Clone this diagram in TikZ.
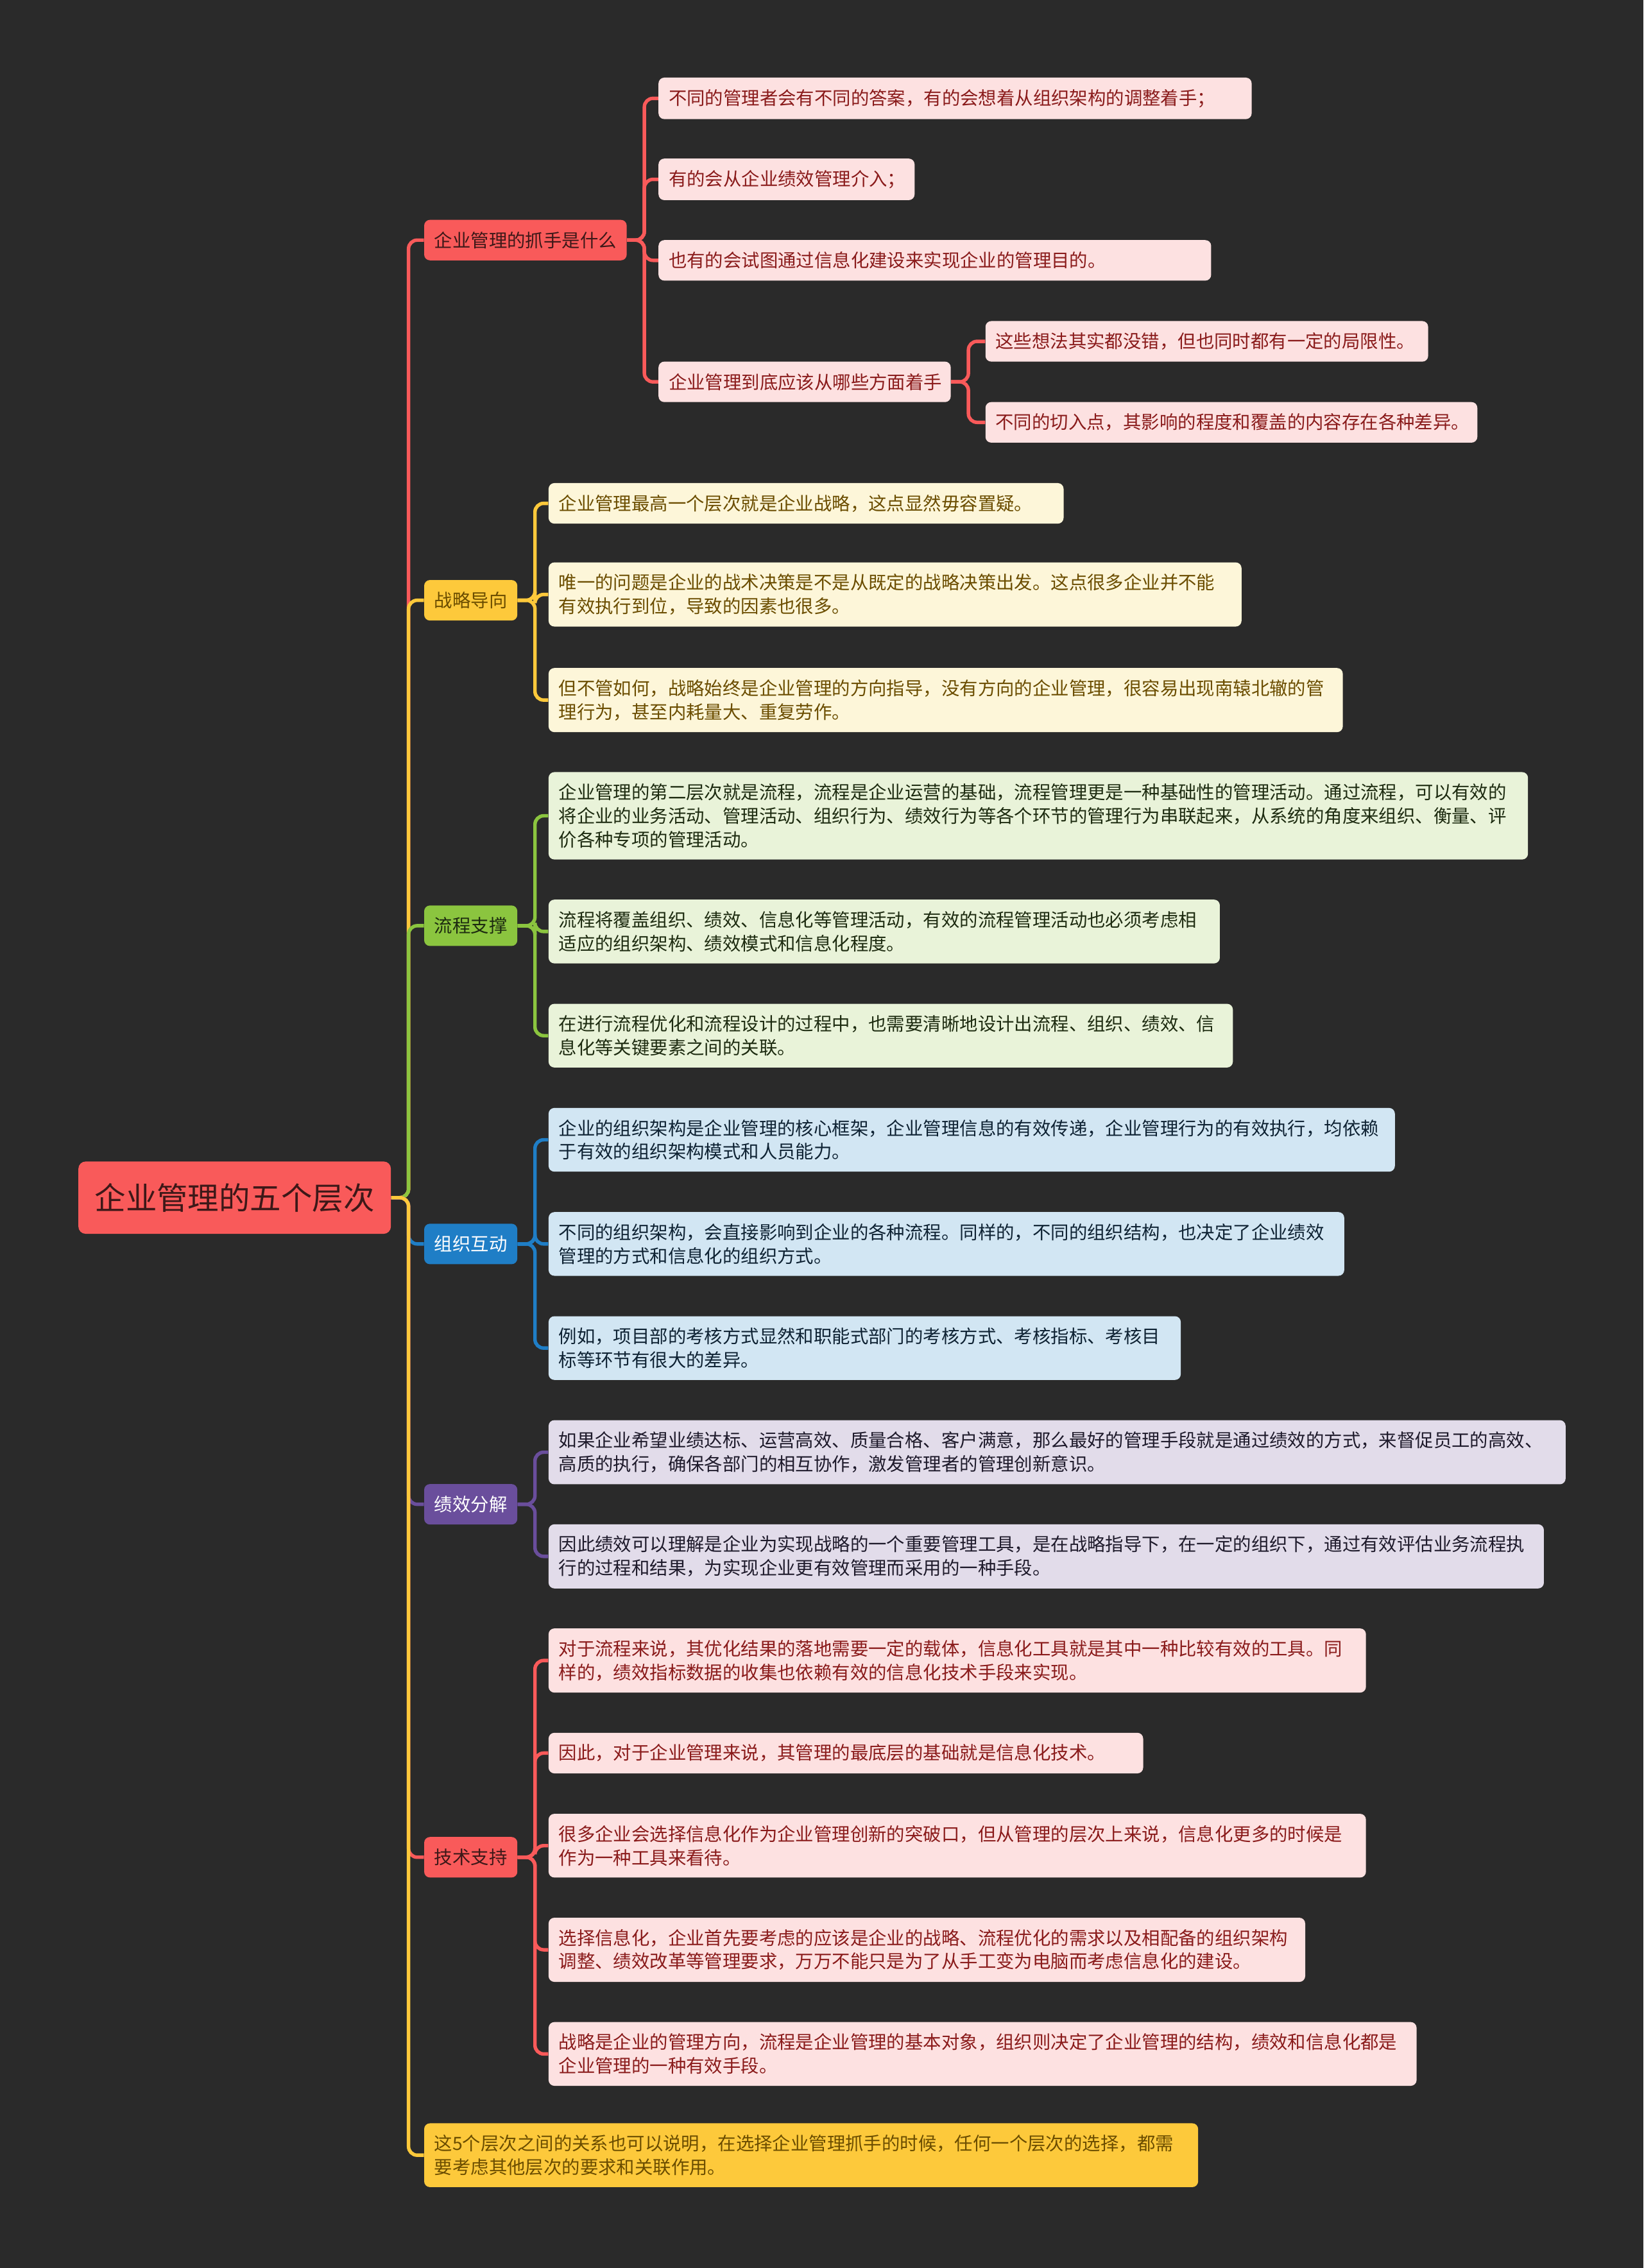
\documentclass[tikz,border=0pt]{standalone}
\usepackage{fontspec}
\setmainfont{Noto Sans CJK SC}
\usepackage{tikz}
\usetikzlibrary{positioning}
\definecolor{bgdark}{HTML}{2A2A2A}
\definecolor{mmred}{HTML}{F95A5A}
\definecolor{mmyellow}{HTML}{FDC93B}
\definecolor{mmgreen}{HTML}{8BC53F}
\definecolor{mmblue}{HTML}{1F7EC6}
\definecolor{mmpurple}{HTML}{6A4E9C}
\definecolor{lfred}{HTML}{FDE1E1}
\definecolor{lfyellow}{HTML}{FDF6D9}
\definecolor{lfgreen}{HTML}{E9F3D9}
\definecolor{lfblue}{HTML}{D2E6F3}
\definecolor{lfpurple}{HTML}{E2DCEA}
\definecolor{txred}{HTML}{8A1B1B}
\definecolor{txbrown}{HTML}{6B4D00}
\definecolor{txgreen}{HTML}{1D2B10}
\definecolor{txblue}{HTML}{0E2233}
\definecolor{txpurple}{HTML}{1E1A2B}
\definecolor{txroot}{HTML}{3D1818}
\newcommand\lfsize{\fontsize{12.6pt}{16.3pt}\selectfont}
\newcommand\rtsize{\fontsize{21.5pt}{26pt}\selectfont}

\begin{document}
\begin{tikzpicture}[x=1pt,y=-1pt,
   rt/.style={rounded corners=5pt,anchor=west,minimum width=216pt,minimum height=50pt,
              inner sep=0pt,font=\rtsize,fill=mmred,text=txroot},
   br/.style={rounded corners=4pt,anchor=west,inner xsep=7pt,inner ysep=0pt,
              minimum height=28pt,font=\lfsize},
   lf/.style={rounded corners=4pt,anchor=west,inner xsep=7pt,inner ysep=8pt,
              minimum height=28pt,align=left,font=\lfsize},
   ln/.style={line width=2.4pt,rounded corners=6pt}]
  \fill[bgdark] (0,0) rectangle (1136,1568);

  \node[rt] (root) at (54,828) {企业管理的五个层次};

  \node[br,fill=mmred,text=txroot] (b1) at (293,166) {企业管理的抓手是什么};
  \node[br,fill=mmyellow,text=txbrown] (b2) at (293,415) {战略导向};
  \node[br,fill=mmgreen,text=txgreen] (b3) at (293,640) {流程支撑};
  \node[br,fill=mmblue,text=white] (b4) at (293,860) {组织互动};
  \node[br,fill=mmpurple,text=white] (b5) at (293,1040) {绩效分解};
  \node[br,fill=mmred,text=txroot] (b6) at (293,1284) {技术支持};
  \node[lf,fill=mmyellow,text=txbrown,text width=521pt] (b7) at (293,1490)
       {这5个层次之间的关系也可以说明，在选择企业管理抓手的时候，任何一个层次的选择，都需\\要考虑其他层次的要求和关联作用。};

  \node[lf,fill=lfred,text=txred,text width=396pt] (l1a) at (455,68)
       {不同的管理者会有不同的答案，有的会想着从组织架构的调整着手；};
  \node[lf,fill=lfred,text=txred,text width=163pt] (l1b) at (455,124)
       {有的会从企业绩效管理介入；};
  \node[lf,fill=lfred,text=txred,text width=368pt] (l1c) at (455,180)
       {也有的会试图通过信息化建设来实现企业的管理目的。};
  \node[lf,fill=lfred,text=txred,text width=188pt] (l1d) at (455,264)
       {企业管理到底应该从哪些方面着手};
  \node[lf,fill=lfred,text=txred,text width=292pt] (l1e) at (681,236)
       {这些想法其实都没错，但也同时都有一定的局限性。};
  \node[lf,fill=lfred,text=txred,text width=326pt] (l1f) at (681,292)
       {不同的切入点，其影响的程度和覆盖的内容存在各种差异。};

  \node[lf,fill=lfyellow,text=txbrown,text width=342pt] (y1) at (379,348)
       {企业管理最高一个层次就是企业战略，这点显然毋容置疑。};
  \node[lf,fill=lfyellow,text=txbrown,text width=465pt] (y2) at (379,411)
       {唯一的问题是企业的战术决策是不是从既定的战略决策出发。这点很多企业并不能\\有效执行到位，导致的因素也很多。};
  \node[lf,fill=lfyellow,text=txbrown,text width=535pt] (y3) at (379,484)
       {但不管如何，战略始终是企业管理的方向指导，没有方向的企业管理，很容易出现南辕北辙的管\\理行为，甚至内耗量大、重复劳作。};

  \node[lf,fill=lfgreen,text=txgreen,text width=663pt] (g1) at (379,564)
       {企业管理的第二层次就是流程，流程是企业运营的基础，流程管理更是一种基础性的管理活动。通过流程，可以有效的\\将企业的业务活动、管理活动、组织行为、绩效行为等各个环节的管理行为串联起来，从系统的角度来组织、衡量、评\\价各种专项的管理活动。};
  \node[lf,fill=lfgreen,text=txgreen,text width=450pt] (g2) at (379,644)
       {流程将覆盖组织、绩效、信息化等管理活动，有效的流程管理活动也必须考虑相\\适应的组织架构、绩效模式和信息化程度。};
  \node[lf,fill=lfgreen,text=txgreen,text width=459pt] (g3) at (379,716)
       {在进行流程优化和流程设计的过程中，也需要清晰地设计出流程、组织、绩效、信\\息化等关键要素之间的关联。};

  \node[lf,fill=lfblue,text=txblue,text width=571pt] (c1) at (379,788)
       {企业的组织架构是企业管理的核心框架，企业管理信息的有效传递，企业管理行为的有效执行，均依赖\\于有效的组织架构模式和人员能力。};
  \node[lf,fill=lfblue,text=txblue,text width=536pt] (c2) at (379,860)
       {不同的组织架构，会直接影响到企业的各种流程。同样的，不同的组织结构，也决定了企业绩效\\管理的方式和信息化的组织方式。};
  \node[lf,fill=lfblue,text=txblue,text width=423pt] (c3) at (379,932)
       {例如，项目部的考核方式显然和职能式部门的考核方式、考核指标、考核目\\标等环节有很大的差异。};

  \node[lf,fill=lfpurple,text=txpurple,text width=689pt] (p1) at (379,1004)
       {如果企业希望业绩达标、运营高效、质量合格、客户满意，那么最好的管理手段就是通过绩效的方式，来督促员工的高效、\\高质的执行，确保各部门的相互协作，激发管理者的管理创新意识。};
  \node[lf,fill=lfpurple,text=txpurple,text width=674pt] (p2) at (379,1076)
       {因此绩效可以理解是企业为实现战略的一个重要管理工具，是在战略指导下，在一定的组织下，通过有效评估业务流程执\\行的过程和结果，为实现企业更有效管理而采用的一种手段。};

  \node[lf,fill=lfred,text=txred,text width=551pt] (r1) at (379,1148)
       {对于流程来说，其优化结果的落地需要一定的载体，信息化工具就是其中一种比较有效的工具。同\\样的，绩效指标数据的收集也依赖有效的信息化技术手段来实现。};
  \node[lf,fill=lfred,text=txred,text width=397pt] (r2) at (379,1212)
       {因此，对于企业管理来说，其管理的最底层的基础就是信息化技术。};
  \node[lf,fill=lfred,text=txred,text width=551pt] (r3) at (379,1276)
       {很多企业会选择信息化作为企业管理创新的突破口，但从管理的层次上来说，信息化更多的时候是\\作为一种工具来看待。};
  \node[lf,fill=lfred,text=txred,text width=509pt] (r4) at (379,1348)
       {选择信息化，企业首先要考虑的应该是企业的战略、流程优化的需求以及相配备的组织架构\\调整、绩效改革等管理要求，万万不能只是为了从手工变为电脑而考虑信息化的建设。};
  \node[lf,fill=lfred,text=txred,text width=586pt] (r5) at (379,1420)
       {战略是企业的管理方向，流程是企业管理的基本对象，组织则决定了企业管理的结构，绩效和信息化都是\\企业管理的一种有效手段。};

  \foreach \n/\c in {b1/mmred,b2/mmyellow,b3/mmgreen,b4/mmblue,b5/mmpurple,b6/mmred,b7/mmyellow}
    \draw[ln,\c] (root.east) -- ++(12,0) |- (\n.west);
  \foreach \n in {l1a,l1b,l1c,l1d}
    \draw[ln,mmred] (b1.east) -- ++(12,0) |- (\n.west);
  \foreach \n in {l1e,l1f}
    \draw[ln,mmred] (l1d.east) -- ++(12,0) |- (\n.west);
  \foreach \n in {y1,y2,y3}
    \draw[ln,mmyellow] (b2.east) -- ++(12,0) |- (\n.west);
  \foreach \n in {g1,g2,g3}
    \draw[ln,mmgreen] (b3.east) -- ++(12,0) |- (\n.west);
  \foreach \n in {c1,c2,c3}
    \draw[ln,mmblue] (b4.east) -- ++(12,0) |- (\n.west);
  \foreach \n in {p1,p2}
    \draw[ln,mmpurple] (b5.east) -- ++(12,0) |- (\n.west);
  \foreach \n in {r1,r2,r3,r4,r5}
    \draw[ln,mmred] (b6.east) -- ++(12,0) |- (\n.west);
\end{tikzpicture}
\end{document}
